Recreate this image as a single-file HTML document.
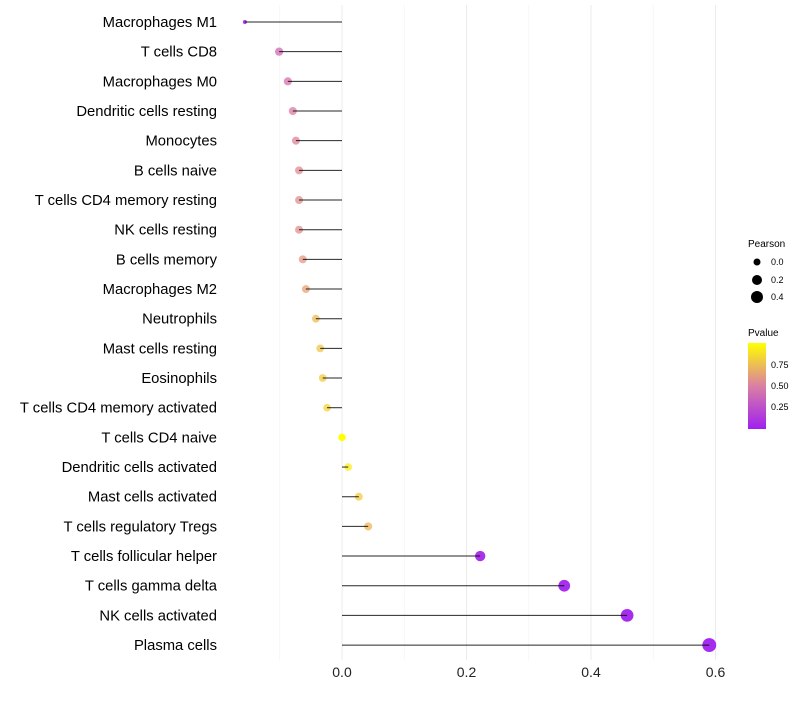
<!DOCTYPE html>
<html><head><meta charset="utf-8"><style>
body{margin:0;background:#fff;font-family:"Liberation Sans",sans-serif}
</style></head><body>
<svg id="chart" width="800" height="700" xmlns="http://www.w3.org/2000/svg">
<defs><linearGradient id="pg" x1="0" y1="1" x2="0" y2="0">
<stop offset="0" stop-color="#a020f0"/><stop offset="0.5" stop-color="#da7fa4"/><stop offset="1" stop-color="#ffff00"/></linearGradient></defs>
<g id="grid"></g><g id="dots"></g><g id="marks"></g><g id="labels"></g>
<g font-size="9">
<text x="748" y="247" font-size="10">Pearson</text>
<circle cx="757" cy="262" r="3.5" fill="#000"/><text x="771" y="265">0.0</text>
<circle cx="757" cy="280" r="5" fill="#000"/><text x="771" y="283">0.2</text>
<circle cx="757" cy="297" r="6" fill="#000"/><text x="771" y="300">0.4</text>
</g>
<g font-size="9">
<text x="748" y="336" font-size="10">Pvalue</text>
<rect x="748" y="343" width="18" height="86" fill="url(#pg)"/>
<text x="771" y="368">0.75</text>
<text x="771" y="389">0.50</text>
<text x="771" y="410">0.25</text>
</g>
</svg>
<script>
const categories=["Macrophages M1","T cells CD8","Macrophages M0","Dendritic cells resting","Monocytes","B cells naive","T cells CD4 memory resting","NK cells resting","B cells memory","Macrophages M2","Neutrophils","Mast cells resting","Eosinophils","T cells CD4 memory activated","T cells CD4 naive","Dendritic cells activated","Mast cells activated","T cells regulatory  Tregs","T cells follicular helper","T cells gamma delta","NK cells activated","Plasma cells"];
const pearson=[-0.156,-0.101,-0.087,-0.079,-0.074,-0.069,-0.069,-0.069,-0.063,-0.058,-0.042,-0.035,-0.031,-0.024,0.0,0.01,0.027,0.042,0.222,0.357,0.458,0.59];
const pvalues=[0.08,0.38,0.43,0.48,0.52,0.55,0.56,0.56,0.6,0.64,0.74,0.78,0.8,0.83,1.0,0.93,0.8,0.72,0.05,0.02,0.01,0.002];
const xTicks=[0.0,0.2,0.4,0.6];
const NS="http://www.w3.org/2000/svg";
const x=v=>342+v*622.5, y=i=>22+i*29.67;
function col(p){const a=[160,32,240],m=[222,125,160],b=[255,255,0];let c;if(p<0.5){const t=p/0.5;c=a.map((v,k)=>v+(m[k]-v)*t)}else{const t=(p-0.5)/0.5;c=m.map((v,k)=>v+(b[k]-v)*t)}return `rgb(${c.map(Math.round).join(',')})`}
const rad=(v,i)=>i===0?2:Math.sqrt(Math.max(4,14+58*Math.abs(v)*(v<0?0.5:1)));
function mk(t,at,p){const e=document.createElementNS(NS,t);for(const k in at)e.setAttribute(k,at[k]);p.appendChild(e);return e}
const G=document.getElementById('grid'),M=document.getElementById('marks'),D=document.getElementById('dots'),L=document.getElementById('labels');
[-0.1,0.1,0.3,0.5,0.7].forEach(v=>{if(x(v)<735){const l=mk('line',{x1:x(v),x2:x(v),y1:5,y2:660,stroke:'#f2f2f2','stroke-width':0.6},G);}});
xTicks.forEach(v=>{const l=mk('line',{x1:x(v),x2:x(v),y1:5,y2:660,stroke:'#ebebeb','stroke-width':1},G);
const t=mk('text',{x:x(v),y:677,'text-anchor':'middle','font-size':14,fill:'#222'},L);t.textContent=v.toFixed(1);});
categories.forEach((c,i)=>{
const t=mk('text',{x:217,y:y(i)+5,'text-anchor':'end','font-size':14.8,fill:'#000'},L);t.textContent=c;
const d=mk('circle',{cx:x(pearson[i]),cy:y(i),r:rad(pearson[i],i),fill:col(pvalues[i]),'fill-opacity':pvalues[i]>0.97?1:(pvalues[i]<0.1?0.95:0.75)},D);
const l=mk('line',{x1:x(0),x2:x(pearson[i]),y1:y(i),y2:y(i),stroke:'#000','stroke-width':1,'stroke-opacity':0.85},M);
});
</script>
</body></html>
